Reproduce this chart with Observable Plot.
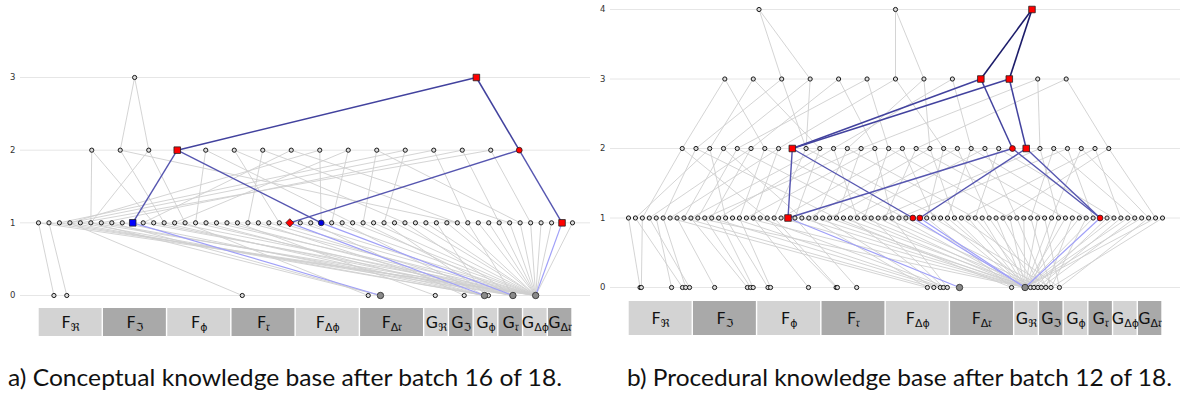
<!DOCTYPE html>
<html><head><meta charset="utf-8">
<script src="https://cdn.jsdelivr.net/npm/d3@7"></script>
<script src="https://cdn.jsdelivr.net/npm/@observablehq/plot@0.6"></script>
<style>
html,body{margin:0;padding:0;background:#fff}
body{width:1180px;height:398px;position:relative;overflow:hidden}
#pa{position:absolute;left:0;top:0}
#pb{position:absolute;left:590px;top:0}
#caps{position:absolute;left:0;top:340px}
</style></head><body>
<div id="pa"></div><div id="pb"></div>
<svg id="caps" width="1180" height="58"></svg>
<script>
// ---------------- shared labels ----------------
const stripLetters = ["F","F","F","F","F","F","G","G","G","G","G","G"];
const stripSubs    = ["ℜ","ℑ","ϕ","𝔯","Δϕ","Δ𝔯","ℜ","ℑ","ϕ","𝔯","Δϕ","Δ𝔯"];
const captionA = "a) Conceptual knowledge base after batch 16 of 18.";
const captionB = "b) Procedural knowledge base after batch 12 of 18.";

// ---------------- panel a (conceptual) ----------------
const aTicks = [0,1,2,3];
// level-0 features: strip category index + value within category
const aL0Feature = [0,0,3,5,5,6,7,8,8,9,10];
const aL0Value   = [0.24,0.44,0.17,0.13,0.32,0.45,0.62,0.44,0.60,0.59,0.51];
// inputs of each node (indices of nodes one level below)
const aL1Inputs = [[0,10],[1,10],[9],[2,7],[7],[4,10],[9],[4],[7],[4],
  [10],[9],[7],[10],[3],[9],[7],[10],[9],[5],
  [10],[7],[9],[10],[7],[10],[6],[9],[10],[7],
  [10],[9],[10],[8],[10],[9],[10],[10],[7],[10],
  [10],[9],[10],[10],[10],[10],[10],[10],[10],[10],
  [10],[10]];
const aL2Inputs = [[5,11],[12,40],[5,14],[9,27],[15,30],[23,35],[20,40],[10,45],
  [27,3],[28,13],[31,46],[2,33],[3,41],[6,44],[4,47],[24,50]];
const aL3Inputs = [[1,2],[3,15]];
const aMarked = [[3,1,"rs"],[2,3,"rs"],[2,15,"rc"],[1,9,"bs"],[1,24,"rd"],[1,27,"bc"],[1,50,"rs"]];

// ---------------- panel b (procedural) ----------------
const bTicks = [0,1,2,3,4];
const bL0Feature = [0,0,0,0,0,0,1,1,1,1,2,2,2,3,3,3,4,4,4,4,4,5,5,6,6,6,6,7,7,7,7];
const bL0Value   = [0.18,0.20,0.67,0.84,0.89,0.95,0.34,0.85,0.90,0.94,0.17,0.21,0.80,0.23,0.25,0.55,
  0.65,0.75,0.85,0.90,0.96,0.15,0.96,0.44,0.66,0.80,0.96,0.10,0.28,0.49,0.83];
const bL1Inputs = [[0],[3],[1],[5],[2],[4],[16],[6],[17],[7],
  [23],[8],[18],[9],[10],[19],[11],[23],[12],[20],
  [13],[14],[23],[21],[15],[23],[16],[24],[17],[23],
  [22],[25],[18],[23],[26],[19],[23],[27],[20],[23],
  [28],[23],[23],[22],[29],[23],[24],[23],[30],[23],
  [25],[23],[26],[23],[27],[23],[28],[23],[29],[23],
  [30],[23],[24],[23],[28],[23],[29],[23],[23],[25],
  [23],[26],[23],[27],[23],[30],[23],[29]];
const bL2Inputs = [[2,20],[5,30],[1,14],[8,25],[10,35],[12,3],[16,40],[18,6],[23,41],[21,45],
  [24,9],[33,13],[27,50],[30,11],[38,17],[34,55],[44,22],[37,60],[47,26],[43,63],
  [52,29],[46,66],[56,32],[50,70],[23,68],[42,68],[62,36],[58,73],[67,39],[61,75],
  [71,48],[76,54]];
const bL3Inputs = [[0,6],[2,10],[9,1],[3,9],[5,14],[15,4],[19,7],[18,12],[21,11],[8,24],[8,25],[26,13],[31,17]];
const bL4Inputs = [[2,3],[6,7],[9,10]];
const bMarked = [[4,2,"rs"],[3,9,"rs"],[3,10,"rs"],[2,8,"rs"],[2,24,"rc"],[2,25,"rs"],
  [1,23,"rs"],[1,41,"rc"],[1,42,"rc"],[1,68,"rc"]];

// ---------------- layout & style (not data) ----------------
const stripWeights = [2.6,2.6,2.6,2.6,2.6,2.6,1,1,1,1,1,1];
const layoutA = {spacing:{1:1,2:2.722,3:32.64}, yRange:[295,77], strip:[308,336]};
const layoutB = {spacing:{1:1,2:1.984,3:4.102,4:19.68}, yRange:[287,9], strip:[301,335]};
const hotColor = {1:"#a0a0f8",2:"#5656b0",3:"#42429e",4:"#1c1c6a"};
const hotWidth = {1:1.2,2:1.4,3:1.5,4:1.6};
const kindStyle = {
  rs:{symbol:"square",fill:"#ff0000",r:3.7},
  rc:{symbol:"circle",fill:"#ff0000",r:2.9},
  rd:{symbol:"diamond2",fill:"#ff0000",r:3.7},
  bs:{symbol:"square",fill:"#0000ff",r:3.7},
  bc:{symbol:"circle",fill:"#0000e0",r:2.9}
};

function panel(d, lay) {
  const inputs = d.inputs;
  const n1 = inputs[1].length, c = (n1 - 1) / 2;
  const maxLevel = inputs.length - 1;
  const total = d3.sum(stripWeights);
  let acc = 0;
  const cats = stripLetters.map((L, k) => {
    const x1 = acc / total * (n1 - 1); acc += stripWeights[k];
    return {k, label: L + "|" + stripSubs[k], x1, x2: acc / total * (n1 - 1), shade: k % 2};
  });
  const K = (l, i) => l + ":" + i;
  const pos = new Map();
  d.l0Feature.forEach((f, i) => pos.set(K(0, i), cats[f].x1 + d.l0Value[i] * (cats[f].x2 - cats[f].x1)));
  inputs.forEach((list, l) => {
    if (!list) return;
    const n = list.length, sp = lay.spacing[l];
    list.forEach((_, i) => pos.set(K(l, i), c + (i - (n - 1) / 2) * sp));
  });
  const marked = new Map(d.marked.map(([l, i, k]) => [K(l, i), k]));
  const edges = [];
  inputs.forEach((list, l) => {
    if (!list) return;
    list.forEach((ch, i) => ch.forEach(j => edges.push({
      pl: l, x1: pos.get(K(l, i)), y1: l, x2: pos.get(K(l - 1, j)), y2: l - 1,
      hot: marked.has(K(l, i)), ck: K(l - 1, j)})));
  });
  const hotLeaves = new Set(edges.filter(e => e.hot && e.pl === 1).map(e => e.ck));
  const nodes = [...pos].map(([k, x]) => ({k, x, y: +k.split(":")[0],
    kind: marked.get(k) || (hotLeaves.has(k) ? "leaf" : "plain")}));

  const ys = d3.scaleLinear([0, maxLevel], lay.yRange);
  const sy1 = ys.invert(lay.strip[0]), sy2 = ys.invert(lay.strip[1]);
  const smid = ys.invert((lay.strip[0] + lay.strip[1]) / 2);

  const marks = [
    Plot.ruleY(d.ticks, {stroke: "#e6e6e6", strokeWidth: 1}),
    Plot.axisY({ticks: d.ticks, tickFormat: "d", tickSize: 0, tickPadding: 5, label: null, fontSize: 8.5, color: "#333"}),
    Plot.rect(cats, {x1: "x1", x2: "x2", y1: sy1, y2: sy2, insetLeft: 0.7, insetRight: 0.7,
      fill: c => c.shade ? "#a9a9a9" : "#d3d3d3"}),
    Plot.text(cats, {x: c => (c.x1 + c.x2) / 2, y: smid, text: "label", fontSize: 16, fill: "#111", className: "catlab"}),
    Plot.link(edges.filter(e => !e.hot), {x1: "x1", y1: "y1", x2: "x2", y2: "y2", stroke: "#cfcfcf", strokeWidth: 0.9})
  ];
  for (let l = 1; l <= maxLevel; l++) {
    marks.push(Plot.link(edges.filter(e => e.hot && e.pl === l),
      {x1: "x1", y1: "y1", x2: "x2", y2: "y2", stroke: hotColor[l], strokeWidth: hotWidth[l]}));
  }
  marks.push(Plot.dot(nodes.filter(n => n.kind === "plain"), {x: "x", y: "y", r: 2.1, fill: "#dcdcdc", stroke: "#1a1a1a", strokeWidth: 1}));
  marks.push(Plot.dot(nodes.filter(n => n.kind === "leaf"), {x: "x", y: "y", r: 3.2, fill: "#8a8a8a", stroke: "#333", strokeWidth: 0.9}));
  for (const [kind, st] of Object.entries(kindStyle)) {
    marks.push(Plot.dot(nodes.filter(n => n.kind === kind), {x: "x", y: "y", symbol: st.symbol, r: st.r, fill: st.fill, stroke: "#222", strokeWidth: 0.8}));
  }
  const svg = Plot.plot({
    width: 590, height: 345,
    marginLeft: 20, marginRight: 0, marginTop: 0, marginBottom: 0,
    style: {fontFamily: "DejaVu Sans", fontSize: "8.5px", background: "transparent"},
    x: {domain: [0, n1 - 1], range: [38, 572], axis: null},
    y: {domain: [0, maxLevel], range: lay.yRange, axis: null},
    marks
  });
  svg.querySelectorAll("g.catlab text").forEach(t => {
    const [L, S] = t.textContent.split("|");
    t.textContent = L;
    const ts = document.createElementNS("http://www.w3.org/2000/svg", "tspan");
    ts.setAttribute("font-size", "11");
    ts.setAttribute("dy", "3.5");
    ts.textContent = S;
    t.appendChild(ts);
  });
  return svg;
}

document.getElementById("pa").appendChild(panel(
  {ticks: aTicks, l0Feature: aL0Feature, l0Value: aL0Value, inputs: [null, aL1Inputs, aL2Inputs, aL3Inputs], marked: aMarked}, layoutA));
document.getElementById("pb").appendChild(panel(
  {ticks: bTicks, l0Feature: bL0Feature, l0Value: bL0Value, inputs: [null, bL1Inputs, bL2Inputs, bL3Inputs, bL4Inputs], marked: bMarked}, layoutB));

// captions
const caps = d3.select("#caps");
[[captionA, 8, 554], [captionB, 627, 545]].forEach(([txt, x, w]) => {
  caps.append("text").attr("x", x).attr("y", 46).attr("font-family", "Lato").attr("font-size", 23)
    .attr("fill", "#111").attr("textLength", w).attr("lengthAdjust", "spacingAndGlyphs").text(txt);
});
</script>
</body></html>
